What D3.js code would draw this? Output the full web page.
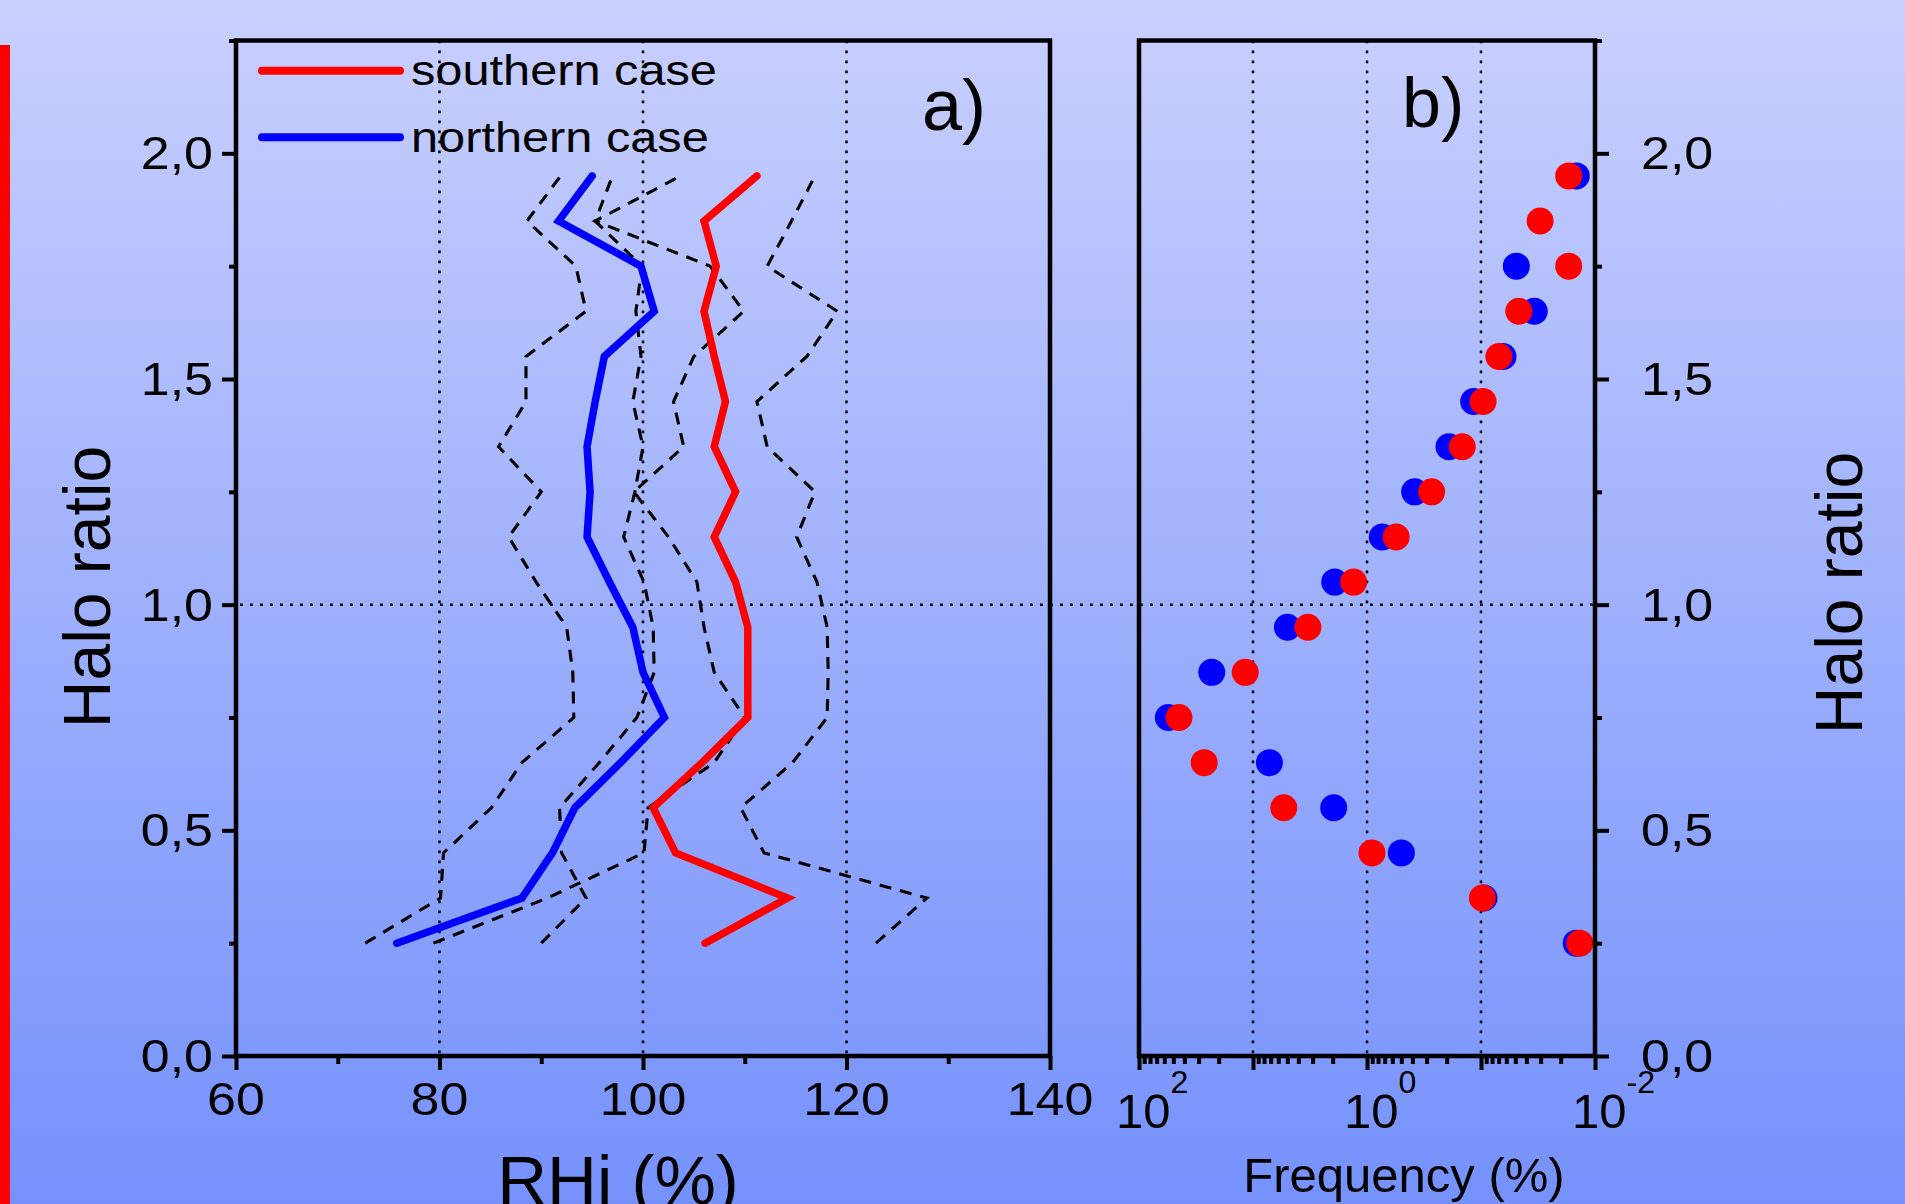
<!DOCTYPE html>
<html>
<head>
<meta charset="utf-8">
<script src="https://cdn.jsdelivr.net/npm/d3@7"></script>
<style>
body{margin:0;overflow:hidden;}
text{font-family:"Liberation Sans",Arial,sans-serif;fill:#000;}
</style>
</head>
<body>
<svg id="chart" width="1905" height="1204"></svg>
<script>
// halo ratio levels (bin centres)
const haloRatio = [0.25,0.35,0.45,0.55,0.65,0.75,0.85,0.95,1.05,1.15,1.25,1.35,1.45,1.55,1.65,1.75,1.85,1.95];

// panel a) RHi profiles (%)
const southernRHi = [106.1,114.2,103.2,101.0,105.8,110.3,110.3,110.3,109.1,107.0,109.1,107.0,108.1,107.0,106.0,107.2,106.0,111.2];
const northernRHi = [75.8,88.1,91.1,93.3,97.8,102.1,100.0,99.0,96.7,94.5,94.8,94.5,95.3,96.2,101.1,99.8,91.7,95.0];
// dashed spread lines
const spreadA = [72.7,80.1,80.4,85.1,88.1,93.2,93.1,92.5,89.5,86.8,90.0,85.8,88.5,88.5,94.4,93.4,88.6,91.9];
const spreadB = [90.0,94.4,92.0,91.8,95.7,99.4,101.1,101.0,100.1,98.1,99.2,100.0,99.0,99.8,99.3,99.9,95.3,97.0];
const spreadC = [79.4,90.6,100.1,100.5,107.0,110.0,107.0,106.0,105.3,102.5,99.1,104.0,103.0,105.0,109.9,106.6,95.3,103.7];
const spreadD = [122.9,127.9,111.9,109.6,114.7,118.1,118.2,118.1,117.1,115.1,116.9,112.2,111.2,116.1,119.1,112.2,114.6,116.9];

// panel b) frequency (%)
const southernFreq = [0.0136,0.0973,0.904,5.37,26.8,44.6,11.7,3.30,1.31,0.555,0.271,0.146,0.0959,0.0697,0.0466,0.0170,0.0303,0.0170];
const northernFreq = [0.0146,0.0942,0.500,1.96,7.18,55.3,23.0,4.99,1.92,0.735,0.382,0.191,0.116,0.0641,0.0341,0.0490,null,0.0146];

// axis ticks / labels
const rhiMajor = [60,80,100,120,140];
const rhiMinor = [70,90,110,130];
const rhiGrid = [80,100,120];
const haloMajor = [0,0.5,1,1.5,2];
const haloMinor = [0.25,0.75,1.25,1.75,2.25];
const freqDecades = [100,10,1,0.1,0.01];
const freqGrid = [10,1,0.1];
const freqLabels = [[100,"2"],[1,"0"],[0.01,"-2"]];
const legendNames = ["southern case","northern case"];

const svg = d3.select("#chart");

// background
let grad = svg.append("defs").append("linearGradient")
    .attr("id","bg").attr("x1",0).attr("y1",0).attr("x2",0).attr("y2",1);
grad.append("stop").attr("offset","0%").attr("stop-color","#c8d0fd");
grad.append("stop").attr("offset","100%").attr("stop-color","#7591fc");
svg.append("rect").attr("width",1905).attr("height",1204).attr("fill","url(#bg)");
svg.append("rect").attr("x",0).attr("y",45).attr("width",10).attr("height",1160).attr("fill","#ff0000");

// scales
let ya = d3.scaleLinear().domain([0,2.25]).range([1056,40.5]);
let xa = d3.scaleLinear().domain([60,140]).range([236,1050]);
let xb = d3.scaleLog().domain([100,0.01]).range([1139,1595]);

let fmt = v => d3.format(".1f")(v).replace(".",",");
const dotted = "2.8,7.2";

// grid lines
svg.selectAll(".gridA").data(rhiGrid).enter().append("line")
    .attr("x1",d=>xa(d)).attr("x2",d=>xa(d)).attr("y1",ya(2.25)).attr("y2",ya(0))
    .attr("stroke","#000").attr("stroke-width",2.5).attr("stroke-dasharray",dotted);
svg.selectAll(".gridB").data(freqGrid).enter().append("line")
    .attr("x1",d=>xb(d)).attr("x2",d=>xb(d)).attr("y1",ya(2.25)).attr("y2",ya(0))
    .attr("stroke","#000").attr("stroke-width",2.5).attr("stroke-dasharray",dotted);
svg.append("line")
    .attr("x1",240).attr("x2",1593).attr("y1",ya(1)).attr("y2",ya(1))
    .attr("stroke","#000").attr("stroke-width",2.5).attr("stroke-dasharray",dotted);

// panel a lines
let line = d3.line().x(d=>xa(d[0])).y(d=>ya(d[1]));
[spreadA,spreadB,spreadC,spreadD].forEach(s=>{
    svg.append("path").attr("d",line(d3.zip(s,haloRatio)))
        .attr("fill","none").attr("stroke","#000").attr("stroke-width",3.1)
        .attr("stroke-dasharray","12,9");
});
svg.append("path").attr("d",line(d3.zip(northernRHi,haloRatio)))
    .attr("fill","none").attr("stroke","#0000ff").attr("stroke-width",7.5)
    .attr("stroke-linecap","round").attr("stroke-linejoin","miter");
svg.append("path").attr("d",line(d3.zip(southernRHi,haloRatio)))
    .attr("fill","none").attr("stroke","#ff0000").attr("stroke-width",7.5)
    .attr("stroke-linecap","round").attr("stroke-linejoin","miter");

// panel b points
let pts = (vals,col)=>{
    svg.append("g").selectAll("circle")
        .data(d3.zip(vals,haloRatio).filter(d=>d[0]!=null))
        .enter().append("circle")
        .attr("cx",d=>xb(d[0])).attr("cy",d=>ya(d[1])).attr("r",13.5).attr("fill",col);
};
pts(northernFreq,"#0000ff");
pts(southernFreq,"#ff0000");

// frames
svg.append("rect").attr("x",xa(60)).attr("y",ya(2.25)).attr("width",xa(140)-xa(60)).attr("height",ya(0)-ya(2.25))
    .attr("fill","none").attr("stroke","#000").attr("stroke-width",4.5);
svg.append("rect").attr("x",xb(100)).attr("y",ya(2.25)).attr("width",xb(0.01)-xb(100)).attr("height",ya(0)-ya(2.25))
    .attr("fill","none").attr("stroke","#000").attr("stroke-width",4.5);

// ticks
function ticks(tx,ty,axis){
    let g = svg.append("g").attr("transform","translate("+tx+","+ty+")").call(axis);
    g.select(".domain").remove();
    g.selectAll("line").attr("stroke-width",4);
    g.selectAll("text").remove();
}
ticks(xa(60),0,d3.axisLeft(ya).tickValues(haloMajor).tickSize(14).tickFormat(""));
ticks(xa(60),0,d3.axisLeft(ya).tickValues(haloMinor).tickSize(7).tickFormat(""));
ticks(0,ya(0),d3.axisBottom(xa).tickValues(rhiMajor).tickSize(14).tickFormat(""));
ticks(0,ya(0),d3.axisBottom(xa).tickValues(rhiMinor).tickSize(8).tickFormat(""));
ticks(xb(0.01),0,d3.axisRight(ya).tickValues(haloMajor).tickSize(14).tickFormat(""));
ticks(xb(0.01),0,d3.axisRight(ya).tickValues(haloMinor).tickSize(7).tickFormat(""));
ticks(0,ya(0),d3.axisBottom(xb).tickValues(freqDecades).tickSize(14).tickFormat(""));
ticks(0,ya(0),d3.axisBottom(xb).tickValues(xb.ticks().filter(v=>!freqDecades.some(d=>Math.abs(d-v)<1e-9))).tickSize(8).tickFormat(""));

// tick labels
svg.selectAll(".ylabA").data(haloMajor).enter().append("text")
    .attr("transform",d=>"translate(213,"+ya(d)+") scale(1.13,1)")
    .attr("dy","0.35em").attr("text-anchor","end").attr("font-size",46).text(fmt);
svg.selectAll(".ylabB").data(haloMajor).enter().append("text")
    .attr("transform",d=>"translate(1641,"+ya(d)+") scale(1.13,1)")
    .attr("dy","0.35em").attr("text-anchor","start").attr("font-size",46).text(fmt);
svg.selectAll(".xlabA").data(rhiMajor).enter().append("text")
    .attr("transform",d=>"translate("+xa(d)+",1115) scale(1.13,1)")
    .attr("text-anchor","middle").attr("font-size",46).text(d=>d);
let fl = svg.selectAll(".xlabB").data(freqLabels).enter().append("text")
    .attr("x",d=>xb(d[0])-23).attr("y",1128).attr("font-size",49);
fl.append("tspan").text("10");
fl.append("tspan").attr("dy",-35).attr("font-size",32).text(d=>d[1]);

// axis titles
svg.append("text").attr("transform","translate(110,587) rotate(-90)")
    .attr("text-anchor","middle").attr("font-size",66).text("Halo ratio");
svg.append("text").attr("transform","translate(1862,593) rotate(-90)")
    .attr("text-anchor","middle").attr("font-size",66).text("Halo ratio");
svg.append("text").attr("x",618).attr("y",1204)
    .attr("text-anchor","middle").attr("font-size",69).text("RHi (%)");
svg.append("text").attr("x",1404).attr("y",1192)
    .attr("text-anchor","middle").attr("font-size",49).text("Frequency (%)");

// panel letters
svg.append("text").attr("x",922).attr("y",130).attr("font-size",72).text("a)");
svg.append("text").attr("x",1402).attr("y",127).attr("font-size",70).text("b)");

// legend
const legendCols = ["#ff0000","#0000ff"];
legendNames.forEach((name,i)=>{
    let ly = 70.7 + i*66.6;
    svg.append("line").attr("x1",262).attr("x2",400).attr("y1",ly).attr("y2",ly)
        .attr("stroke",legendCols[i]).attr("stroke-width",8).attr("stroke-linecap","round");
    svg.append("text").attr("transform","translate(411,"+(ly+14.5)+") scale(1.16,1)")
        .attr("font-size",42).text(name);
});
</script>
</body>
</html>
